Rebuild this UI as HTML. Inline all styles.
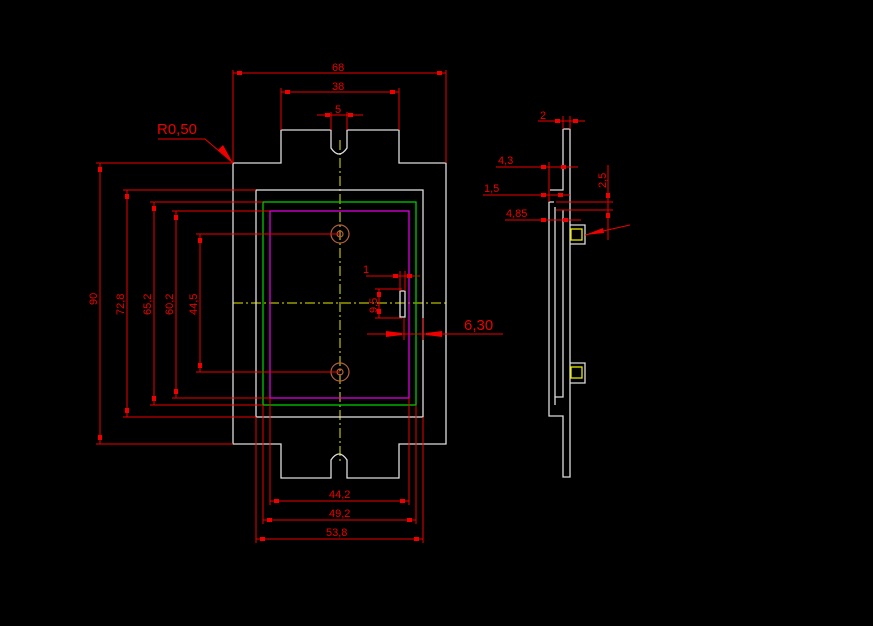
<!DOCTYPE html>
<html><head><style>
html,body{margin:0;padding:0;background:#000;}
svg{display:block;}
text{font-family:"Liberation Sans",sans-serif;fill:#e00;}
</style></head><body>
<svg width="873" height="626" viewBox="0 0 873 626" xmlns="http://www.w3.org/2000/svg">
<rect width="873" height="626" fill="#000"/>
<!-- yellow center lines -->
<g stroke="#e8e800" stroke-width="1" stroke-dasharray="10,3,2,3" fill="none">
<line x1="340" y1="140" x2="340" y2="462"/>
<line x1="233" y1="303" x2="446" y2="303"/>
</g>
<!-- main outline -->
<g stroke="#ddd" stroke-width="1.3" fill="none">
<path d="M233,163 L281,163 L281,130 L331,130 L331,148 Q339,160 347,148 L347,130 L399,130 L399,163 L446,163 L446,444 L399,444 L399,478 L347,478 L347,460 Q339,448 331,460 L331,478 L281,478 L281,444 L233,444 Z"/>
<rect x="256" y="190" width="167" height="227"/>
<rect x="400" y="291" width="5" height="26"/>
</g>
<rect x="263" y="202" width="153" height="203" stroke="#0c0" stroke-width="1.3" fill="none"/>
<rect x="270" y="211" width="139" height="187" stroke="#d0d" stroke-width="1.3" fill="none"/>
<g stroke="#b06040" stroke-width="1.2" fill="none">
<circle cx="340" cy="234" r="9"/><circle cx="340" cy="234" r="3"/>
<circle cx="340" cy="372" r="9"/><circle cx="340" cy="372" r="3"/>
</g>
<!-- dimension lines -->
<g stroke="#e00" stroke-width="1" fill="none">
<line x1="233" y1="70" x2="233" y2="163"/><line x1="446" y1="70" x2="446" y2="163"/><line x1="233" y1="73" x2="446" y2="73"/>
<line x1="281" y1="88" x2="281" y2="130"/><line x1="399" y1="88" x2="399" y2="130"/><line x1="281" y1="92" x2="399" y2="92"/>
<line x1="331" y1="112" x2="331" y2="130"/><line x1="347" y1="112" x2="347" y2="130"/><line x1="317" y1="115" x2="363" y2="115"/>
<polyline points="158,139 205,139 233,163"/>
<line x1="96" y1="163" x2="233" y2="163"/><line x1="96" y1="444" x2="233" y2="444"/><line x1="100" y1="163" x2="100" y2="444"/>
<line x1="123" y1="190" x2="256" y2="190"/><line x1="123" y1="417" x2="256" y2="417"/><line x1="127" y1="190" x2="127" y2="417"/>
<line x1="150" y1="202" x2="263" y2="202"/><line x1="150" y1="405" x2="263" y2="405"/><line x1="154" y1="202" x2="154" y2="405"/>
<line x1="172" y1="211" x2="270" y2="211"/><line x1="172" y1="398" x2="270" y2="398"/><line x1="176" y1="211" x2="176" y2="398"/>
<line x1="196" y1="234" x2="340" y2="234"/><line x1="196" y1="372" x2="340" y2="372"/><line x1="200" y1="234" x2="200" y2="372"/>
<line x1="270" y1="398" x2="270" y2="505"/><line x1="409" y1="398" x2="409" y2="505"/><line x1="270" y1="501" x2="409" y2="501"/>
<line x1="263" y1="405" x2="263" y2="524"/><line x1="416" y1="405" x2="416" y2="524"/><line x1="263" y1="520" x2="416" y2="520"/>
<line x1="256" y1="417" x2="256" y2="543"/><line x1="423" y1="417" x2="423" y2="543"/><line x1="256" y1="539" x2="423" y2="539"/>
<line x1="366" y1="276" x2="420" y2="276"/><line x1="400" y1="271" x2="400" y2="291"/><line x1="405" y1="271" x2="405" y2="291"/>
<line x1="375" y1="289" x2="402" y2="289"/><line x1="375" y1="318" x2="402" y2="318"/><line x1="379" y1="289" x2="379" y2="318"/>
<line x1="367" y1="334" x2="503" y2="334"/><line x1="404" y1="318" x2="404" y2="340"/><line x1="423" y1="318" x2="423" y2="340"/>
<line x1="440" y1="334" x2="503" y2="334"/>
</g>
<g fill="#e00">
<rect x="237" y="71" width="5" height="4"/><rect x="437" y="71" width="5" height="4"/>
<rect x="285" y="90" width="5" height="4"/><rect x="390" y="90" width="5" height="4"/>
<rect x="325" y="113" width="5" height="4"/><rect x="348" y="113" width="5" height="4"/>
<polygon points="233,163 218,150 223,145"/>
<rect x="98" y="167" width="4" height="5"/><rect x="98" y="435" width="4" height="5"/>
<rect x="125" y="194" width="4" height="5"/><rect x="125" y="408" width="4" height="5"/>
<rect x="152" y="206" width="4" height="5"/><rect x="152" y="396" width="4" height="5"/>
<rect x="174" y="215" width="4" height="5"/><rect x="174" y="389" width="4" height="5"/>
<rect x="198" y="238" width="4" height="5"/><rect x="198" y="363" width="4" height="5"/>
<rect x="274" y="499" width="5" height="4"/><rect x="400" y="499" width="5" height="4"/>
<rect x="267" y="518" width="5" height="4"/><rect x="407" y="518" width="5" height="4"/>
<rect x="260" y="537" width="5" height="4"/><rect x="414" y="537" width="5" height="4"/>
<rect x="393" y="274" width="5" height="4"/><rect x="407" y="274" width="5" height="4"/>
<rect x="377" y="292" width="4" height="5"/><rect x="377" y="309" width="4" height="5"/>
<polygon points="386,331 402,333 402,335 386,337"/><polygon points="442,331 426,333 426,335 442,337"/>
</g>
<g font-size="11">
<text x="332" y="71">68</text>
<text x="332" y="90">38</text>
<text x="335" y="113">5</text>
<text x="329" y="498">44,2</text>
<text x="329" y="517">49,2</text>
<text x="326" y="536">53,8</text>
<text x="363" y="273">1</text>
<text transform="translate(97,305) rotate(-90)">90</text>
<text transform="translate(124,315) rotate(-90)">72,8</text>
<text transform="translate(151,315) rotate(-90)">65,2</text>
<text transform="translate(173,315) rotate(-90)">60,2</text>
<text transform="translate(197,315) rotate(-90)">44,5</text>
<text transform="translate(377,313) rotate(-90)">9,5</text>
</g>
<text x="157" y="134" font-size="15">R0,50</text>
<text x="464" y="330" font-size="15">6,30</text>
<!-- side view -->
<g stroke="#ddd" stroke-width="1.3" fill="none">
<path d="M563,129 L570,129 L570,477 L563,477 L563,416 L549,416 L549,202 L554,202"/>
<path d="M563,129 L563,190 L550,190"/>
<path d="M563,210 L563,397 L555,397 L555,405"/>
<path d="M555,207 L555,397"/>
<path d="M570,225 L585,225 L585,244 L570,244"/>
<path d="M570,363 L585,363 L585,383 L570,383"/>
</g>
<g stroke="#e8e800" stroke-width="1.3" fill="none">
<rect x="571" y="229" width="11" height="11"/>
<rect x="571" y="367" width="11" height="11"/>
</g>
<g stroke="#e00" stroke-width="1" fill="none">
<line x1="538" y1="121" x2="585" y2="121"/><line x1="563" y1="116" x2="563" y2="129"/><line x1="570" y1="116" x2="570" y2="129"/>
<line x1="496" y1="167" x2="578" y2="167"/><line x1="549" y1="162" x2="549" y2="202"/>
<line x1="483" y1="195" x2="570" y2="195"/>
<line x1="505" y1="220" x2="581" y2="220"/>
<line x1="556" y1="202" x2="613" y2="202"/><line x1="556" y1="210" x2="613" y2="210"/><line x1="608" y1="165" x2="608" y2="240"/>
<line x1="585" y1="235" x2="630" y2="225"/>
</g>
<g fill="#e00">
<rect x="555" y="119" width="5" height="4"/><rect x="573" y="119" width="5" height="4"/>
<rect x="541" y="165" width="5" height="4"/><rect x="561" y="165" width="5" height="4"/>
<rect x="541" y="193" width="5" height="4"/><rect x="558" y="193" width="5" height="4"/>
<rect x="541" y="218" width="5" height="4"/><rect x="563" y="218" width="5" height="4"/>
<rect x="606" y="193" width="4" height="5"/><rect x="606" y="213" width="4" height="5"/>
<polygon points="585,235 603,228 604,233"/>
</g>
<g font-size="11">
<text x="540" y="119">2</text>
<text x="498" y="164">4,3</text>
<text x="484" y="192">1,5</text>
<text x="506" y="217">4,85</text>
<text transform="translate(606,188) rotate(-90)">2,5</text>
</g>
</svg>
</body></html>
